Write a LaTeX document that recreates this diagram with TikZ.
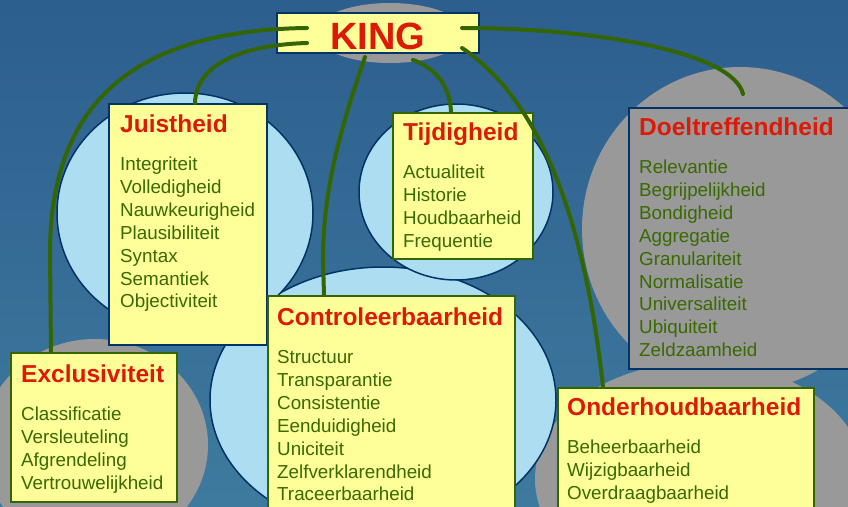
\documentclass[tikz,border=0pt]{standalone}
\usepackage{fontspec}
\setmainfont{Liberation Sans}

\definecolor{bgtop}{RGB}{44,94,142}
\definecolor{bgbottom}{RGB}{62,122,158}
\definecolor{oval}{RGB}{173,221,240}
\definecolor{ovalgray}{RGB}{153,153,153}
\definecolor{navy}{RGB}{0,51,102}
\definecolor{boxyellow}{RGB}{255,255,153}
\definecolor{titlered}{RGB}{221,26,8}
\definecolor{itemgreen}{RGB}{56,106,0}
\definecolor{linkgreen}{RGB}{51,102,0}

\newcommand{\heading}[1]{{\fontsize{24.5}{22.85}\selectfont\bfseries\color{titlered}#1}}

\begin{document}
\begin{tikzpicture}[x=1pt,y=-1pt]

\tikzset{
  blueoval/.style={fill=oval, draw=navy, line width=1.5},
  grayoval/.style={fill=ovalgray},
  ybox/.style={draw=#1, fill=boxyellow, line width=2, anchor=north west, inner sep=0},
  ybox/.default=linkgreen,
  gbox/.style={draw=navy, fill=ovalgray, line width=2, anchor=north west, inner sep=0},
  list/.style={anchor=base west, inner sep=0, align=left, text=itemgreen,
    font=\fontsize{18.8}{22.85}\selectfont},
  link/.style={draw=linkgreen, line width=4, line cap=round}
}

\shade [top color=bgtop, bottom color=bgbottom] (0,0) rectangle (848,506);
\useasboundingbox (0,0) rectangle (848,506);

% grey and blue ovals
\fill [grayoval] (390,33) ellipse [x radius=75, y radius=30];
\fill [grayoval] (95,445) ellipse [x radius=113, y radius=106];
\fill [grayoval] (740,229) ellipse [x radius=158, y radius=162];
\fill [grayoval] (700,479) ellipse [x radius=165, y radius=117];

\path [blueoval] (383,400) ellipse [x radius=173, y radius=133];
\path [blueoval] (456,192) ellipse [x radius=97, y radius=88];
\path [blueoval] (185,213) ellipse [x radius=128, y radius=120];

% boxes
\node [ybox=navy, minimum width=158, minimum height=241] (juist) at (108,103) {};
\node [list, text width=140] (juistT) at ([shift={(12,29)}]juist.north west)
  {\heading{Juistheid}\\[16pt]Integriteit\\Volledigheid\\Nauwkeurigheid\\Plausibiliteit\\Syntax\\Semantiek\\Objectiviteit};

\node [ybox, minimum width=140, minimum height=146] (tijd) at (392,112) {};
\node [list, text width=125] (tijdT) at ([shift={(11,28)}]tijd.north west)
  {\heading{Tijdigheid}\\[16pt]Actualiteit\\Historie\\Houdbaarheid\\Frequentie};

\node [gbox, minimum width=240, minimum height=261] (doel) at (628,107) {};
\node [list, text width=220] (doelT) at ([shift={(11,28)}]doel.north west)
  {\heading{Doeltreffendheid}\\[16pt]Relevantie\\Begrijpelijkheid\\Bondigheid\\Aggregatie\\Granulariteit\\Normalisatie\\Universaliteit\\Ubiquiteit\\Zeldzaamheid};

\node [ybox, minimum width=166, minimum height=149] (excl) at (10,352) {};
\node [list, text width=150] (exclT) at ([shift={(11,30)}]excl.north west)
  {\heading{Exclusiviteit}\\[16pt]Classificatie\\Versleuteling\\Afgrendeling\\Vertrouwelijkheid};

\node [ybox, minimum width=247, minimum height=230] (contr) at (267,295) {};
\node [list, text width=230] (contrT) at ([shift={(10,30)}]contr.north west)
  {\heading{Controleerbaarheid}\\[16pt]Structuur\\Transparantie\\Consistentie\\Eenduidigheid\\Uniciteit\\Zelfverklarendheid\\Traceerbaarheid};

\node [ybox, minimum width=256, minimum height=140] (onder) at (557,387) {};
\node [list, text width=240] (onderT) at ([shift={(10,28)}]onder.north west)
  {\heading{Onderhoudbaarheid}\\[16pt]Beheerbaarheid\\Wijzigbaarheid\\Overdraagbaarheid};

\node [ybox=navy, minimum width=202, minimum height=40, text height=32pt, text depth=0pt,
  font=\fontsize{38}{38}\selectfont\bfseries, text=titlered] (king) at (276,12) {KING};

% lines from KING
\coordinate (k1) at (307,28);
\coordinate (k2) at (307,43);
\coordinate (k3) at (365,57);
\coordinate (k4) at (413,60);
\coordinate (k5) at (462,28);
\coordinate (k6) at (462,48);

\draw [link] (k1) .. controls (150,30) and (50,90) .. (50,253) -- ([xshift=-43pt]excl.north);
\draw [link] (k2) .. controls (240,45) and (196,65) .. ([xshift=7pt]juist.north);
\draw [link] (k3) .. controls (340,130) and (323,190) .. (323,260) -- ([xshift=-67.5pt]contr.north);
\draw [link] (k4) .. controls (435,68) and (450,85) .. ([xshift=-12pt]tijd.north);
\draw [link] (k5) .. controls (595,28) and (733,52) .. ([shift={(-6pt,13pt)}]doel.north);
\draw [link] (k6) .. controls (540,100) and (585,220) .. ([xshift=-83pt]onder.north);

\end{tikzpicture}
\end{document}
